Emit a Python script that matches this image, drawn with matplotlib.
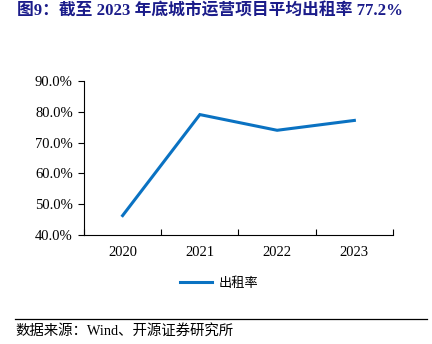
import matplotlib
matplotlib.use("Agg")
import matplotlib.pyplot as plt
from matplotlib.lines import Line2D

# Average occupancy of city operation projects
years = ["2020", "2021", "2022", "2023"]
occupancy = [46.3, 79.1, 74.0, 77.2]
y_ticks = [40, 50, 60, 70, 80, 90]

title = "图9：截至 2023 年底城市运营项目平均出租率 77.2%"
series_name = "出租率"
source = "数据来源：Wind、开源证券研究所"

mixed = ["Liberation Serif", "Noto Sans CJK SC"]
navy = "#1B1C8A"
blue = "#0A72C2"

fig = plt.figure(figsize=(4.32, 3.44), dpi=100)
ax = fig.add_axes([0.1944, 0.3169, 0.7153, 0.4476])

x = list(range(len(years)))
ax.plot(x, occupancy, color=blue, linewidth=2.2, solid_joinstyle="miter")

ax.set_xlim(-0.5, len(years) - 0.5)
ax.set_ylim(40, 90)
ax.set_yticks(y_ticks)
ax.set_yticklabels([f"{v:.1f}%" for v in y_ticks], family="Liberation Serif", fontsize=10.5)

# category boundaries carry the tick marks, labels sit in the middle
ax.set_xticks([i - 0.5 for i in range(len(years) + 1)])
ax.set_xticklabels([])
ax.set_xticks(x, minor=True)
ax.set_xticklabels(years, minor=True, family="Liberation Serif", fontsize=10.5)
ax.tick_params(axis="x", which="minor", length=0, pad=8)
ax.tick_params(axis="x", which="major", length=4, width=0.8, direction="in")
ax.tick_params(axis="y", length=4, width=0.8, direction="out", pad=4)

for side in ("top", "right"):
    ax.spines[side].set_visible(False)
for side in ("left", "bottom"):
    ax.spines[side].set_linewidth(0.8)

handle = Line2D([], [], color=blue, linewidth=2.2)
fig.legend([handle], [series_name], loc="center", bbox_to_anchor=(0.507, 0.177),
           frameon=False, prop={"family": "Noto Sans CJK SC", "size": 9.5},
           handlelength=2.4, handletextpad=0.5)

fig.text(0.039, 0.965, title, family=mixed, fontsize=12.1, fontweight="bold",
         color=navy, ha="left", va="center")

fig.add_artist(Line2D([0.035, 0.988], [0.073, 0.073], transform=fig.transFigure,
                      color="black", linewidth=0.9))
fig.text(0.035, 0.038, source, family=mixed, fontsize=10.4, ha="left", va="center")

fig.savefig("out.png", dpi=100)
